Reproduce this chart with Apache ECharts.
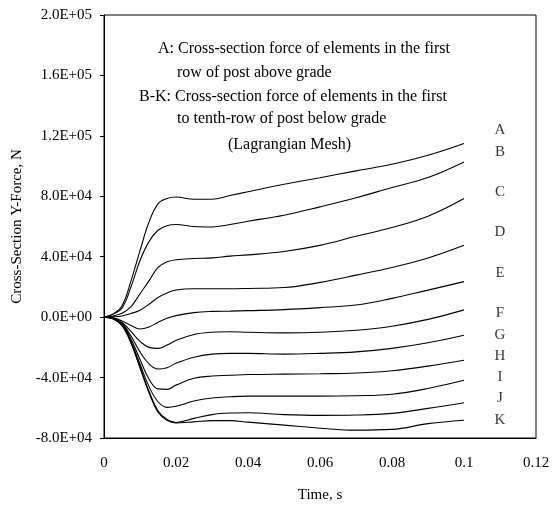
<!DOCTYPE html>
<html>
<head>
<meta charset="utf-8">
<script src="https://cdn.jsdelivr.net/npm/echarts@6/dist/echarts.min.js"></script>
<style>
  html, body { margin: 0; padding: 0; background: #fff; }
  #chart { width: 557px; height: 508px; }
</style>
</head>
<body>
<div id="chart"></div>
<script>
// Time samples, s
const times = [0, 0.0025, 0.005, 0.0075, 0.01, 0.0125, 0.015, 0.0175, 0.02, 0.025, 0.03, 0.035, 0.04, 0.05, 0.06, 0.07, 0.08, 0.09, 0.1];

// Cross-section Y-force, N (A: first row above grade; B-K: first to tenth row below grade)
const forceA = [0, 2000, 7500, 24000, 44000, 63000, 75000, 78500, 79500, 78000, 78000, 80500, 83000, 88000, 92300, 96800, 101200, 107200, 115000];
const forceB = [0, 2000, 6000, 20000, 37500, 50000, 57500, 60500, 61300, 60000, 59700, 61300, 63500, 67500, 73000, 79000, 85800, 92400, 102700];
const forceC = [0, 800, 2600, 7000, 15500, 24000, 33000, 36600, 38000, 38800, 39200, 40400, 41200, 43500, 47500, 53500, 59300, 66800, 78500];
const forceD = [0, 200, 800, 2400, 4600, 8500, 13000, 16000, 18000, 18800, 18800, 18800, 19000, 19600, 23000, 27800, 32900, 39200, 47600];
const forceE = [0, -500, -2500, -5500, -7800, -6500, -3500, -800, 1000, 3000, 3800, 4000, 4300, 5000, 6300, 8000, 12400, 17900, 23500];
const forceF = [0, -700, -3500, -9500, -16000, -20000, -20700, -18500, -15500, -11500, -10000, -9700, -10000, -10400, -10000, -8700, -6000, -1500, 4800];
const forceG = [0, -800, -4000, -12500, -23000, -31000, -34300, -33500, -30500, -26500, -24500, -24000, -24000, -24500, -24000, -23000, -20700, -17000, -12000];
const forceH = [0, -900, -4500, -14500, -28000, -41000, -47500, -47800, -45000, -40500, -39000, -38500, -38000, -37700, -37500, -37000, -35500, -32400, -28500];
const forceI = [0, -900, -5000, -16000, -31000, -46000, -56000, -59700, -59000, -55500, -53500, -52700, -52300, -52300, -52300, -52000, -51000, -47200, -41800];
const forceJ = [0, -1000, -5500, -17000, -33000, -49000, -62000, -67800, -69700, -67000, -64500, -63500, -63300, -64500, -65000, -64800, -63700, -60400, -56700];
const forceK = [0, -1000, -5500, -17000, -33500, -50000, -63000, -68300, -70000, -69300, -68500, -68500, -69500, -71500, -73500, -74800, -74300, -70500, -68200];

const curveNames = ['A', 'B', 'C', 'D', 'E', 'F', 'G', 'H', 'I', 'J', 'K'];
const curveValues = [forceA, forceB, forceC, forceD, forceE, forceF, forceG, forceH, forceI, forceJ, forceK];

// Where the curve letters sit (time, force)
const letterTime = 0.11;
const letterForce = [123700, 109400, 82900, 56400, 29100, 2600, -11900, -25800, -39500, -53600, -68100];

// Axis ranges
const xMin = 0, xMax = 0.12, xStep = 0.02;
const yMin = -80000, yMax = 200000, yStep = 40000;

// Note block
const noteLines = [
  'A: Cross-section force of elements in the first',
  'row of post above grade',
  'B-K: Cross-section force of elements in the first',
  'to tenth-row of post below grade',
  '(Lagrangian Mesh)'
];

const FONT = '"Liberation Serif", "Times New Roman", serif';

function sci(v) {
  if (v === 0) return '0.0E+00';
  const e = Math.floor(Math.log10(Math.abs(v)) + 1e-9);
  const m = v / Math.pow(10, e);
  return m.toFixed(1) + 'E' + (e < 0 ? '-' : '+') + String(Math.abs(e)).padStart(2, '0');
}

const chart = echarts.init(document.getElementById('chart'), null, { renderer: 'canvas' });

const lineSeries = curveNames.map((n, i) => ({
  name: n,
  type: 'line',
  data: times.map((t, j) => [t, curveValues[i][j]]),
  showSymbol: false,
  smooth: 0.4,
  lineStyle: { color: '#000', width: 1.1 },
  silent: true,
  z: 3
}));

const letterSeries = {
  type: 'scatter',
  data: curveNames.map((n, i) => ({ value: [letterTime, letterForce[i]], name: n })),
  symbolSize: 0,
  silent: true,
  label: {
    show: true,
    position: 'inside',
    formatter: p => p.name,
    color: '#000',
    fontFamily: FONT,
    fontSize: 15
  }
};

const noteTop = [41, 65, 89, 111, 137];
const noteLeft = [158, 177, 139, 177, 228];
const noteSize = [16, 16, 16, 16, 16];

chart.setOption({
  animation: false,
  backgroundColor: '#fff',
  grid: {
    left: 104, right: 21, top: 15, bottom: 70,
    show: true, borderColor: '#000', borderWidth: 1
  },
  xAxis: {
    type: 'value',
    min: xMin, max: xMax, interval: xStep,
    name: 'Time, s',
    nameLocation: 'middle',
    nameGap: 50,
    nameTextStyle: { color: '#000', fontFamily: FONT, fontSize: 15 },
    axisLine: { onZero: false, lineStyle: { color: '#000', width: 1 } },
    axisTick: { show: false },
    splitLine: { show: false },
    axisLabel: {
      color: '#000', fontFamily: FONT, fontSize: 15, margin: 18,
      formatter: v => String(+v.toFixed(2))
    }
  },
  yAxis: {
    type: 'value',
    min: yMin, max: yMax, interval: yStep,
    name: 'Cross-Section Y-Force, N',
    nameLocation: 'middle',
    nameGap: 76,
    nameTextStyle: { color: '#000', fontFamily: FONT, fontSize: 15 },
    axisLine: { show: true, onZero: false, lineStyle: { color: '#000', width: 1 } },
    axisTick: { show: true, inside: false, length: 4, lineStyle: { color: '#000' } },
    splitLine: { show: false },
    axisLabel: {
      color: '#000', fontFamily: FONT, fontSize: 15, margin: 12,
      formatter: v => sci(v)
    }
  },
  graphic: noteLines.map((s, i) => ({
    type: 'text',
    left: noteLeft[i],
    top: noteTop[i],
    silent: true,
    style: { text: s, fill: '#000', font: noteSize[i] + 'px ' + FONT }
  })),
  series: [...lineSeries, letterSeries]
});
</script>
</body>
</html>
